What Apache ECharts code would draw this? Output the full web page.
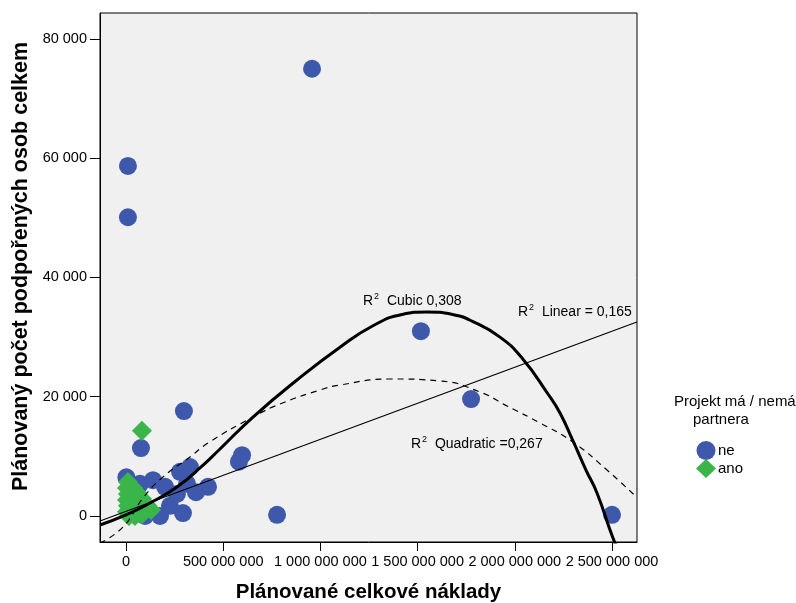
<!DOCTYPE html>
<html>
<head>
<meta charset="utf-8">
<script src="https://cdn.jsdelivr.net/npm/echarts@6/dist/echarts.min.js"></script>
<style>html,body{margin:0;padding:0;background:#fff;}#c{width:796px;height:603px;}</style>
</head>
<body>
<div id="c"></div>
<script>
// ---- data ----
const xTicks = [0, 500000000, 1000000000, 1500000000, 2000000000, 2500000000];
const yTicks = [0, 20000, 40000, 60000, 80000];

// "ne" group: [cost, persons]
const neData = [
  [957e6, 75000], [10e6, 58700], [10e6, 50100], [77e6, 11400], [298e6, 17600],
  [1517e6, 31000], [1775e6, 19600], [2500e6, 200], [777e6, 200], [597e6, 10200],
  [581e6, 9100], [422e6, 4900], [329e6, 8200], [278e6, 7400], [139e6, 6000],
  [2e6, 6500], [72e6, 5400], [201e6, 4900], [314e6, 5400], [262e6, 3700],
  [293e6, 500], [175e6, 0], [98e6, 0], [226e6, 1700], [360e6, 4000], [46e6, 1000]
];
// "ano" group
const anoData = [
  [10e6, 5700], [5e6, 4700], [10e6, 3700], [5e6, 2700], [10e6, 1700], [5e6, 700],
  [15e6, 0], [36e6, 4700], [57e6, 3900], [82e6, 2900], [108e6, 1800], [129e6, 1000],
  [82e6, 300], [46e6, 0], [26e6, 2200], [46e6, 3000], [82e6, 14300]
];

// fit curves
const linearFit = [[-133.7e6, -840], [2628e6, 32530]];
const quadraticFit = [
  [-133.7e6, -4530], [-15.4e6, -1845], [87.5e6, 3020], [190.3e6, 6540], [329.2e6, 9890],
  [421.8e6, 12240], [653.3e6, 16600], [792.2e6, 18780], [997.9e6, 21130], [1100.8e6, 21970],
  [1358e6, 22975], [1615.2e6, 22640], [1821e6, 20795], [1959.9e6, 18450], [2129.6e6, 15600],
  [2299.4e6, 12410], [2474.3e6, 7710], [2628e6, 3100]
];
const cubicFit = [
  [-133.7e6, -1510], [0, 170], [123.5e6, 2180], [262.3e6, 4860], [380.7e6, 8050],
  [483.5e6, 11240], [653.3e6, 16600], [879.6e6, 22810], [1100.8e6, 28300], [1270.6e6, 31900],
  [1420e6, 33800], [1548.3e6, 34210], [1680e6, 33800], [1785e6, 32600], [1923.9e6, 30000],
  [2037e6, 26500], [2170.8e6, 20460], [2232.5e6, 17270], [2299.4e6, 12580], [2366.2e6, 7710],
  [2422.8e6, 3860], [2505e6, -3690], [2541e6, -6200]
];

const seriesNames = ['ne', 'ano'];
const legendTitle = ['Projekt má / nemá', 'partnera'];

const fmt = v => String(Math.round(v)).replace(/\B(?=(\d{3})+(?!\d))/g, ' ');
const FONT = '"Liberation Sans", Arial, sans-serif';

function r2Label(rest) {
  return {
    text: '{a|R}{b|2}{c|  ' + rest + '}',
    rich: {
      a: {fontSize: 14, fontFamily: FONT, fill: '#000', lineHeight: 17, verticalAlign: 'bottom'},
      b: {fontSize: 9, fontFamily: FONT, fill: '#000', lineHeight: 17, verticalAlign: 'top', padding: [1, 0, 0, 1]},
      c: {fontSize: 14, fontFamily: FONT, fill: '#000', lineHeight: 17, verticalAlign: 'bottom'}
    }
  };
}

const chart = echarts.init(document.getElementById('c'), null, {renderer: 'canvas'});
chart.setOption({
  backgroundColor: '#ffffff',
  animation: false,
  textStyle: {fontFamily: FONT},
  grid: {
    left: 100, top: 13, width: 537, height: 529, outerBoundsMode: 'none', containLabel: false,
    show: true, backgroundColor: '#f0f0f0', borderColor: '#000', borderWidth: 1
  },
  xAxis: {
    type: 'value', min: -133.7e6, max: 2628.6e6,
    splitLine: {show: false},
    axisLine: {show: true, onZero: false, lineStyle: {color: '#000'}},
    axisTick: {show: true, length: 9, customValues: xTicks, lineStyle: {color: '#000'}},
    axisLabel: {customValues: xTicks, formatter: fmt, color: '#000', fontSize: 14.5, margin: 12, fontFamily: FONT},
    name: 'Plánované celkové náklady', nameLocation: 'middle', nameGap: 40,
    nameTextStyle: {fontWeight: 'bold', fontSize: 20.5, color: '#000', fontFamily: FONT}
  },
  yAxis: {
    type: 'value', min: -4360, max: 84350,
    splitLine: {show: false},
    axisLine: {show: true, onZero: false, lineStyle: {color: '#000'}},
    axisTick: {show: true, length: 10, customValues: yTicks, lineStyle: {color: '#000'}},
    axisLabel: {customValues: yTicks, formatter: fmt, color: '#000', fontSize: 14.5, margin: 13, fontFamily: FONT},
    name: 'Plánovaný počet podpořených osob celkem', nameLocation: 'middle', nameGap: 68,
    nameTextStyle: {fontWeight: 'bold', fontSize: 21.5, color: '#000', fontFamily: FONT, padding: [0, 0, 0, 22]}
  },
  legend: {
    data: [{name: seriesNames[0], icon: 'circle'}, {name: seriesNames[1], icon: 'diamond'}],
    orient: 'vertical', left: 691, top: 436, itemWidth: 20, itemHeight: 19, itemGap: -1,
    textStyle: {color: '#000', fontSize: 15, fontFamily: FONT, padding: [0, 0, 0, -3]},
    selectedMode: false
  },
  graphic: [
    {type: 'text', left: 674, top: 394, style: {text: legendTitle[0], font: '15px ' + FONT, fill: '#000'}},
    {type: 'text', left: 693, top: 412, style: {text: legendTitle[1], font: '15px ' + FONT, fill: '#000'}},
    {type: 'text', left: 363, top: 291, style: r2Label('Cubic 0,308')},
    {type: 'text', left: 518, top: 302, style: r2Label('Linear = 0,165')},
    {type: 'text', left: 411, top: 434, style: r2Label('Quadratic =0,267')}
  ],
  series: [
    {name: seriesNames[0], type: 'scatter', data: neData, symbol: 'circle', symbolSize: 18,
     itemStyle: {color: '#3e58ac', opacity: 1}, z: 2},
    {name: seriesNames[1], type: 'scatter', data: anoData, symbol: 'diamond', symbolSize: 20,
     itemStyle: {color: '#3ab54a', opacity: 1}, z: 3},
    {name: 'linear', type: 'line', data: linearFit, showSymbol: false, symbol: 'none', clip: true,
     lineStyle: {color: '#000', width: 1.2}, z: 4},
    {name: 'quadratic', type: 'line', data: quadraticFit, showSymbol: false, symbol: 'none', smooth: 0.5, clip: true,
     lineStyle: {color: '#000', width: 1.2, type: [6, 5]}, z: 4},
    {name: 'cubic', type: 'line', data: cubicFit, showSymbol: false, symbol: 'none', smooth: 0.5, clip: true,
     lineStyle: {color: '#000', width: 3}, z: 5}
  ]
});
</script>
</body>
</html>
